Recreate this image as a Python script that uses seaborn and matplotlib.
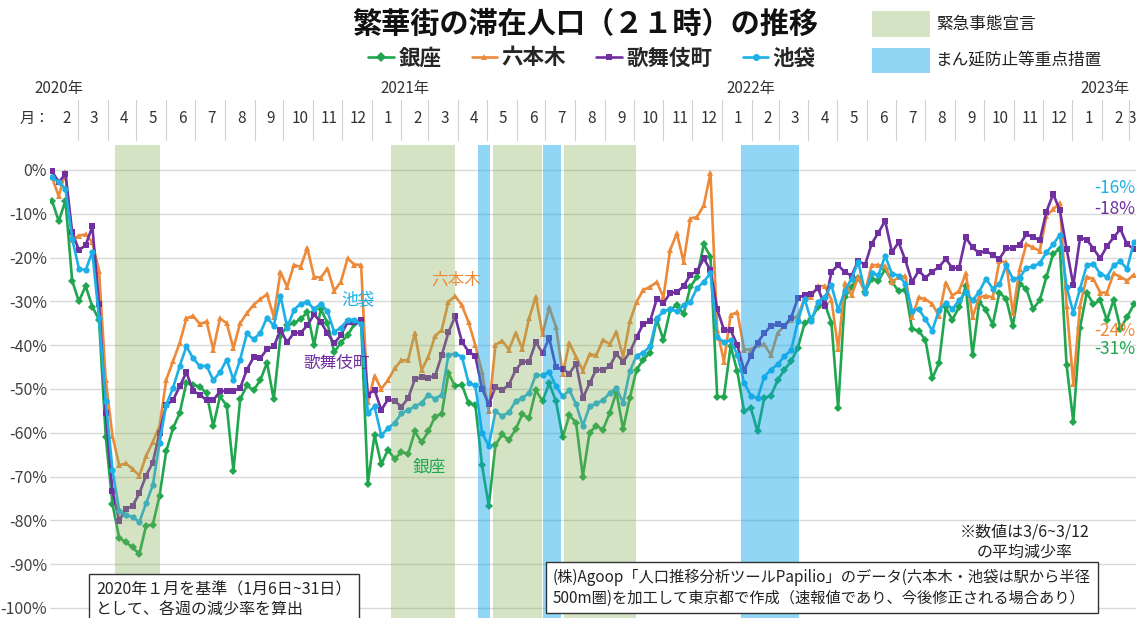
import pandas as pd
import matplotlib
matplotlib.use("Agg")
import matplotlib.pyplot as plt
import matplotlib.dates as mdates
import matplotlib.transforms as mtransforms
from matplotlib.lines import Line2D
from matplotlib.patches import Rectangle
import seaborn as sns

sns.set_theme(style="white")
plt.rcParams["font.family"] = ["Noto Sans CJK JP", "DejaVu Sans"]

# weekly decline rate vs Jan 2020 (%), weeks starting 2020-02-03
start = "2020-02-03"
areas = ["銀座", "六本木", "歌舞伎町", "池袋"]

ginza = [
    -7, -11.7, -7, -25.3, -30, -26.5, -31.2, -34.2, -61, -76.3,
    -84, -85, -86.2, -87.7, -81.2, -81, -74.4, -64.2, -59, -55.5,
    -48.6, -49, -49.5, -51, -58.5, -51.7, -53.8, -68.7, -52.4, -49.2,
    -50.3, -48, -44, -52.4, -38, -35.5, -35, -34, -32.5, -40,
    -31.7, -35, -41.6, -39.4, -37.7, -35.2, -34.6, -71.6, -60.5, -67.2,
    -63.9, -66, -64.4, -64.8, -59.7, -62.2, -59.7, -56.3, -55.7, -46.4,
    -49.4, -49, -53.3, -53.6, -67.4, -76.7, -62.8, -60.4, -61.7, -59.2,
    -55.8, -56.7, -50.3, -52.8, -48.7, -52.8, -61, -56, -57.7, -70,
    -60, -58.4, -59.3, -55.5, -50.7, -59.2, -52, -45.6, -43.3, -41.7,
    -34.2, -38.8, -32, -30.8, -32.9, -26.7, -24.4, -17, -19.8, -51.8,
    -51.8, -40.2, -46, -55.1, -54.3, -59.7, -52.1, -51.5, -48, -45.6,
    -43.7, -40.6, -35, -34.1, -31.2, -30.5, -34.9, -54.3, -29, -26.8,
    -24.6, -27.8, -24.8, -25.3, -22.6, -25.5, -27.7, -27.3, -36.3, -36.7,
    -38.9, -47.6, -44.1, -31.4, -34.2, -31.3, -26.5, -42.3, -30.1, -32,
    -35.3, -28, -29.4, -35.7, -26, -27.1, -31.7, -29.8, -24.4, -19.1,
    -18, -44.6, -57.5, -36, -28, -30.7, -29.7, -34.3, -29.7, -36.2,
    -33.6, -30.7,
]
roppongi = [
    -1.7, -6, -0.5, -16, -15, -14.7, -16.5, -23, -47.9, -60.8,
    -67.4, -67, -68.3, -69.8, -65.3, -62.1, -58.5, -47.9, -43.7, -39.5,
    -33.9, -33.3, -35.2, -34.6, -41, -33.9, -35, -40.7, -35, -32.7,
    -30.8, -29.5, -28.4, -33.5, -23.3, -26.7, -21.7, -22.1, -17.8, -24.4,
    -24.6, -22.5, -27.6, -25.5, -20.2, -21.6, -21.7, -53, -47, -50,
    -48, -45.3, -43.5, -43.4, -37.2, -45.7, -42.7, -38, -36.5, -30.1,
    -28.8, -30.9, -34.8, -40, -46.2, -55.1, -39.9, -39, -41, -37.2,
    -40.8, -33.9, -28.9, -37.5, -31.4, -35.8, -46.5, -39.5, -42.7, -45.8,
    -42.1, -42.3, -38.8, -39.8, -37, -42.7, -34.6, -30.1, -27.4, -26.7,
    -25.6, -29, -18.2, -14.5, -21, -11.1, -10.7, -8.1, -0.7, -36.5,
    -43.8, -33.1, -32.5, -41, -41, -40, -39.8, -42.3, -37.2, -35.6,
    -34.2, -33.3, -29.3, -28.9, -26.5, -26.5, -29.6, -40.9, -25.8, -28.6,
    -24.4, -27.8, -21.7, -21.7, -22, -25.5, -24.5, -24.2, -33.6, -29.1,
    -29.5, -30.6, -33.3, -25.7, -28.7, -27.6, -23.6, -33.6, -29.1, -28.7,
    -29.1, -20.8, -21.1, -32.7, -22.7, -17, -17.7, -18.5, -10.5, -9,
    -7.5, -31, -48.8, -31, -24.4, -24.9, -28, -28, -23.6, -24.4,
    -25.3, -23.9,
]
kabukicho = [
    -0.3, -2.8, -0.9, -14.2, -18.3, -17.2, -12.9, -30.6, -55.5, -73.3,
    -80.1, -77.4, -76.7, -73.8, -69.8, -66.8, -60, -53.6, -52.6, -49.4,
    -46.2, -50.5, -51.3, -52.6, -52.6, -50.5, -50.5, -50.5, -49.8, -45.6,
    -42.8, -43, -40.9, -40.3, -36.6, -39.3, -37.2, -37.2, -35.5, -33,
    -34.7, -37.3, -39.6, -37.7, -34.7, -34.7, -34.3, -51.3, -50.2, -54.8,
    -52.4, -52.7, -54.1, -52.1, -47.8, -47.3, -47.4, -47.1, -42.3, -37.1,
    -33.4, -39.2, -41.5, -42.5, -49.9, -53.5, -49.6, -50.3, -49, -45.7,
    -43.8, -43.8, -39.3, -41.8, -38.4, -45.1, -45.5, -46.5, -44.2, -52.1,
    -48.7, -45.6, -45.7, -44.8, -42, -43.8, -41.6, -38.2, -35.1, -34.6,
    -29.5, -30.4, -28.1, -27.9, -26.5, -24, -23.1, -20.2, -22.9, -31.8,
    -36.5, -36.6, -40, -45.8, -42.4, -39.4, -37.3, -35.6, -35.2, -35.6,
    -33.7, -29.3, -28.5, -28.3, -27, -31, -23.3, -21.7, -23.4, -24.1,
    -20.7, -21.7, -16.8, -14.3, -11.6, -18.8, -16.5, -20.6, -25.6, -23,
    -24.6, -23.2, -22.2, -20.3, -22.4, -22.3, -15.4, -17.7, -19, -18.4,
    -19.5, -20.3, -17.9, -17.9, -17.1, -14.7, -15.3, -16.1, -9.5, -5.5,
    -9.2, -18, -26.3, -15.5, -15.9, -18, -20.2, -17.4, -15.4, -13.5,
    -17, -18,
]
ikebukuro = [
    -1.7, -2.8, -4.3, -15.7, -22.5, -22.9, -18.7, -33.9, -52.8, -68.5,
    -77.8, -78.8, -79.2, -80.4, -76.1, -72, -62.3, -53.6, -49.8, -44.8,
    -40.3, -43, -44.8, -44.7, -48, -46.2, -43.3, -47.9, -43.3, -37.3,
    -38.7, -37.2, -33.7, -35.6, -28.7, -36, -32, -30.5, -30.1, -31.8,
    -30.5, -32.3, -37, -36, -34.2, -34.2, -35.2, -55.5, -54, -60.6,
    -59, -57.7, -55.6, -54.8, -54, -53.2, -51.3, -52.3, -51.3, -42.2,
    -42, -42.6, -48.6, -49.2, -60, -63, -55.1, -56.2, -55.3, -52.8,
    -52.1, -50.9, -46.8, -46.9, -46.1, -49.4, -51.7, -50.3, -53.5, -58.4,
    -54, -53.3, -52.6, -50.9, -49.8, -53.2, -45.9, -42.4, -41.7, -40.3,
    -33.9, -32.3, -31.8, -32.3, -30.8, -30.1, -27, -25.5, -23.6, -38.2,
    -39.3, -38.9, -42.2, -48.6, -51.5, -52.1, -47.2, -45.6, -44.4, -42.5,
    -41.2, -34.6, -29.4, -34.5, -30.1, -29, -26.3, -32, -27.6, -24.8,
    -21, -28, -23.6, -24, -19.6, -23.7, -24.1, -26, -32.1, -31.8,
    -34.1, -36.7, -32, -30.4, -31.7, -29.8, -27.9, -29.8, -27.8, -24.8,
    -27.1, -26.1, -21.8, -24.8, -24.6, -22.4, -22, -21.3, -18.8, -17,
    -14.8, -26.7, -32.6, -27.1, -21.8, -21.4, -23.7, -24.4, -21.8, -20.9,
    -22.6, -16.5,
]

# shaded periods as they appear on the chart
emergency = [("2020-04-09", "2020-05-26"), ("2021-01-21", "2021-03-29"),
             ("2021-05-07", "2021-06-27"), ("2021-07-20", "2021-10-03")]
priority = [("2021-04-22", "2021-05-04"), ("2021-06-29", "2021-07-17"),
            ("2022-01-21", "2022-03-22")]

latest = ["-16%", "-18%", "-24%", "-31%"]
years = ["2020年", "2021年", "2022年", "2023年"]
year_dates = ["2020-02-10", "2021-02-05", "2022-01-31", "2023-02-04"]
months = pd.period_range("2020-02", "2023-03", freq="M")

dates = pd.date_range(start, periods=len(ginza), freq="7D")
df = pd.DataFrame({"date": dates, "銀座": ginza, "六本木": roppongi,
                   "歌舞伎町": kabukicho, "池袋": ikebukuro})
long_df = df.melt(id_vars="date", var_name="area", value_name="rate")

colors = {"銀座": "#1FA64E", "六本木": "#EC8A3A", "歌舞伎町": "#7030A0", "池袋": "#1DB0E6"}
markers = {"銀座": "D", "六本木": "^", "歌舞伎町": "s", "池袋": "o"}
green_shade = "#87AF59"
blue_shade = "#0DA4E9"

W, H = 1136, 618
fig = plt.figure(figsize=(W / 100, H / 100), dpi=100)
ax = fig.add_axes([50 / W, 0, 1086 / W, 473 / H])

sns.lineplot(data=long_df, x="date", y="rate", hue="area", style="area",
             hue_order=areas, style_order=areas, palette=colors,
             markers=markers, dashes=False, linewidth=1.9, markersize=4.5,
             markeredgewidth=0, legend=False, ax=ax)

for s, e in emergency:
    ax.axvspan(pd.Timestamp(s), pd.Timestamp(e), color=green_shade,
               alpha=0.35, lw=0, zorder=3)
for s, e in priority:
    ax.axvspan(pd.Timestamp(s), pd.Timestamp(e), color=blue_shade,
               alpha=0.45, lw=0, zorder=3)

t0 = pd.Timestamp(start)
x_end = t0 + pd.Timedelta(days=1129.3)
ax.set_xlim(t0 - pd.Timedelta(days=2.1), x_end)
ax.set_ylim(-102.3, 5.7)
ax.set_yticks(range(-100, 1, 10))
ax.set_yticklabels([f"{v}%" for v in range(-100, 1, 10)])
ax.tick_params(axis="y", length=0, pad=2, labelsize=11.5, labelcolor="#404040")
ax.set_xticks([])
ax.set_xlabel("")
ax.set_ylabel("")
ax.grid(axis="y", color="#D9D9D9", lw=1)
ax.set_axisbelow(True)
sns.despine(ax=ax, left=True, bottom=True)

# header: years and month row
hdr = mtransforms.blended_transform_factory(ax.transData, fig.transFigure)
for lab, d in zip(years, year_dates):
    ax.text(mdates.date2num(pd.Timestamp(d)), 1 - 88 / H, lab, transform=hdr,
            ha="center", va="center", fontsize=11, color="#333333", clip_on=False)
for p in months:
    mid = p.start_time + pd.Timedelta(days=17)
    if p == months[-1]:
        ax.text(mdates.date2num(x_end), 1 - 118 / H, str(p.month), transform=hdr,
                ha="right", va="center", fontsize=11, color="#333333", clip_on=False)
    else:
        ax.text(mdates.date2num(mid), 1 - 118 / H, str(p.month), transform=hdr,
                ha="center", va="center", fontsize=11, color="#333333", clip_on=False)
    if p != months[0]:
        xb = mdates.date2num(p.start_time)
        fig.add_artist(Line2D([xb, xb], [1 - 100 / H, 1 - 140 / H], transform=hdr,
                              color="#D0D0D0", lw=0.8))
fig.text(20 / W, 1 - 118 / H, "月：", ha="left", va="center", fontsize=11, color="#333333")

# title and series legend
fig.text(585 / W, 1 - 24 / H, "繁華街の滞在人口（２１時）の推移", ha="center",
         va="center", fontsize=21, weight="bold", color="#111111")
handles = [Line2D([], [], color=colors[a], marker=markers[a], lw=1.9, ms=5,
                  mew=0) for a in areas]
fig.legend(handles, areas, ncol=4, loc="center", bbox_to_anchor=(592 / W, 1 - 58 / H),
           frameon=False, handlelength=1.2, handletextpad=0.2, columnspacing=1.4,
           prop={"family": ["Noto Sans CJK JP", "DejaVu Sans"], "weight": "bold", "size": 15.5})

# shading legend
fig.add_artist(Rectangle((872 / W, 1 - 37 / H), 58 / W, 26 / H, transform=fig.transFigure,
                         facecolor="#D5E3C5", edgecolor="none"))
fig.add_artist(Rectangle((872 / W, 1 - 73 / H), 58 / W, 25 / H, transform=fig.transFigure,
                         facecolor="#92D6F5", edgecolor="none"))
fig.text(936 / W, 1 - 24 / H, "緊急事態宣言", ha="left", va="center", fontsize=12, color="#222222")
fig.text(936 / W, 1 - 61 / H, "まん延防止等重点措置", ha="left", va="center", fontsize=12, color="#222222")

# in-plot labels
ax.text(pd.Timestamp("2020-12-18"), -29.7, "池袋", color=colors["池袋"], fontsize=12,
        ha="center", va="center", zorder=5)
ax.text(pd.Timestamp("2020-11-25"), -44.2, "歌舞伎町", color=colors["歌舞伎町"], fontsize=12,
        ha="center", va="center", zorder=5)
ax.text(pd.Timestamp("2021-03-30"), -25.2, "六本木", color=colors["六本木"], fontsize=12,
        ha="center", va="center", zorder=5)
ax.text(pd.Timestamp("2021-03-02"), -67.8, "銀座", color=colors["銀座"], fontsize=12,
        ha="center", va="center", zorder=5)

right = mtransforms.blended_transform_factory(ax.transAxes, ax.transData)
for lab, a, yv in zip(latest, ["池袋", "歌舞伎町", "六本木", "銀座"], [-4.2, -8.9, -36.7, -40.8]):
    ax.text(0.999, yv, lab, transform=right, color=colors[a], fontsize=12.5,
            ha="right", va="center", zorder=6)

fig.text(1025 / W, 1 - 542 / H, "※数値は3/6~3/12\nの平均減少率", ha="center", va="center",
         fontsize=11.5, color="#222222", linespacing=1.2)

box = dict(boxstyle="square,pad=0.45", fc="white", ec="#333333", lw=1)
fig.text(96 / W, 1 - 581 / H, "2020年１月を基準（1月6日~31日）\nとして、各週の減少率を算出",
         ha="left", va="top", fontsize=11.5, color="#222222", linespacing=1.3, bbox=box, zorder=7)
fig.text(553 / W, 1 - 569 / H,
         "(株)Agoop「人口推移分析ツールPapilio」のデータ(六本木・池袋は駅から半径\n"
         "500m圏)を加工して東京都で作成（速報値であり、今後修正される場合あり）",
         ha="left", va="top", fontsize=11, color="#222222", linespacing=1.25, bbox=box, zorder=7)

fig.savefig("out.png", dpi=100)
